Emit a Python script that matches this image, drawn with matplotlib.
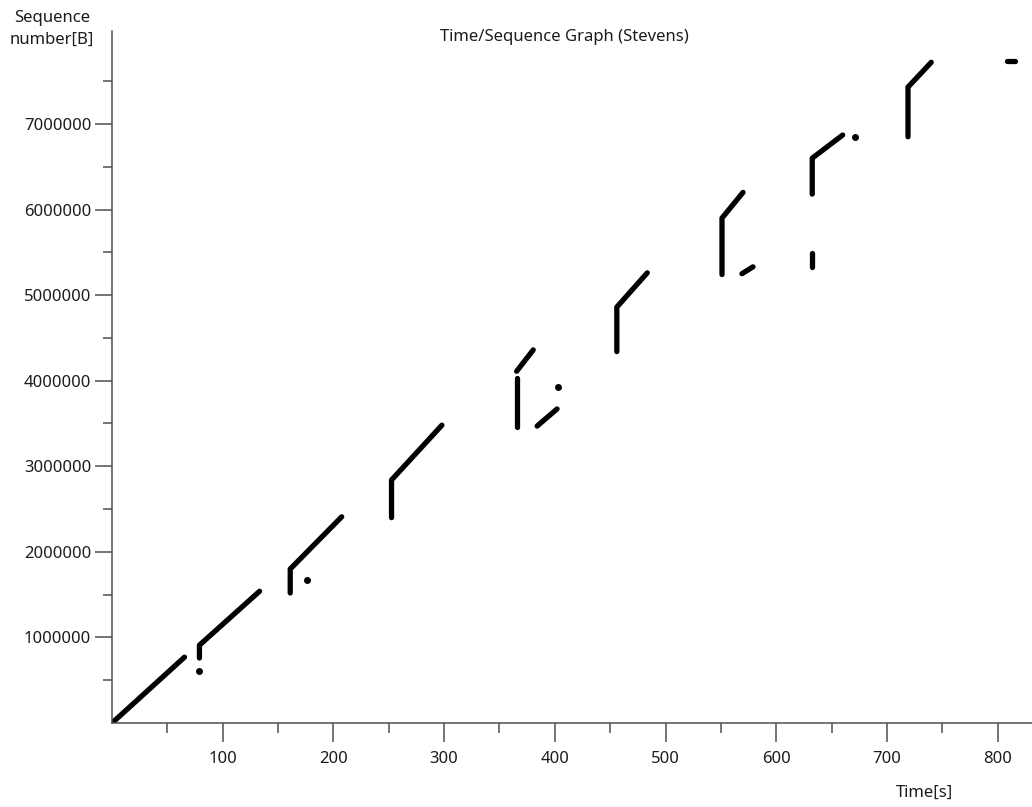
import matplotlib
matplotlib.use("Agg")
import matplotlib.pyplot as plt

# Time/Sequence (Stevens) graph
# each run: times [s] and sequence numbers [B] of its corner points

run_times = [
    [0, 65.5],
    [79, 79, 133.3],
    [161, 161, 207.5],
    [252.5, 252.5, 298],
    [365.5, 365.5],
    [365.5, 380.5],
    [384, 402],
    [456, 456, 483.5],
    [551, 551, 570],
    [569, 579],
    [632.5, 632.5, 660],
    [632.5, 632.5],
    [719, 719, 740],
    [808, 816],
]
run_seqs = [
    [0, 770000],
    [760000, 910000, 1540000],
    [1520000, 1800000, 2410000],
    [2400000, 2840000, 3480000],
    [3460000, 4030000],
    [4110000, 4360000],
    [3470000, 3670000],
    [4340000, 4860000, 5260000],
    [5240000, 5900000, 6200000],
    [5250000, 5330000],
    [6180000, 6600000, 6870000],
    [5330000, 5490000],
    [6850000, 7430000, 7720000],
    [7730000, 7730000],
]

# single stray packets
dot_times = [79, 176, 403, 671]
dot_seqs = [610000, 1670000, 3930000, 6850000]

x_major = [100, 200, 300, 400, 500, 600, 700, 800]
x_minor = [50, 150, 250, 350, 450, 550, 650, 750]
y_major = [1000000, 2000000, 3000000, 4000000, 5000000, 6000000, 7000000]
y_minor = [500000, 1500000, 2500000, 3500000, 4500000, 5500000, 6500000, 7500000]

TXT = "#1c1c1c"
AX = "#505050"

plt.rcParams["font.family"] = ["Noto Sans", "DejaVu Sans"]

fig = plt.figure(figsize=(10.32, 8.07), dpi=100)
ax = fig.add_axes([0.1085, 0.104, 0.8915, 0.857])

for t, s in zip(run_times, run_seqs):
    ax.plot(t, s, color="black", lw=3.8, solid_capstyle="round",
            solid_joinstyle="round")
ax.plot(dot_times, dot_seqs, "o", color="black", ms=5, mew=0)

ax.set_xlim(0, 831)
ax.set_ylim(0, 8080000)

ax.set_xticks(x_major)
ax.set_xticks(x_minor, minor=True)
ax.set_yticks(y_major)
ax.set_yticks(y_minor, minor=True)
ax.set_xticklabels([str(v) for v in x_major])
ax.set_yticklabels([str(v) for v in y_major])

ax.tick_params(axis="x", which="major", length=13.7, width=1.1, color=AX,
               labelsize=12, labelcolor=TXT, pad=6.5)
ax.tick_params(axis="x", which="minor", length=7.2, width=1.1, color=AX)
ax.tick_params(axis="y", which="major", length=12, width=1.1, color=AX,
               labelsize=12, labelcolor=TXT, pad=3)
ax.tick_params(axis="y", which="minor", length=6.5, width=1.1, color=AX)

for side in ["top", "right"]:
    ax.spines[side].set_visible(False)
for side in ["left", "bottom"]:
    ax.spines[side].set_color(AX)
    ax.spines[side].set_linewidth(1.1)

W, H = 1032, 807
fig.text(564 / W, 1 - 37 / H, "Time/Sequence Graph (Stevens)", ha="center",
         va="center", fontsize=12, color=TXT)
fig.text(52 / W, 1 - 29 / H, "Sequence\nnumber[B]", ha="center", va="center",
         fontsize=12, color=TXT, linespacing=1.45, multialignment="center")
fig.text(925 / W, 1 - 793 / H, "Time[s]", ha="center", va="center",
         fontsize=12, color=TXT)

fig.savefig("out.png", dpi=100)
